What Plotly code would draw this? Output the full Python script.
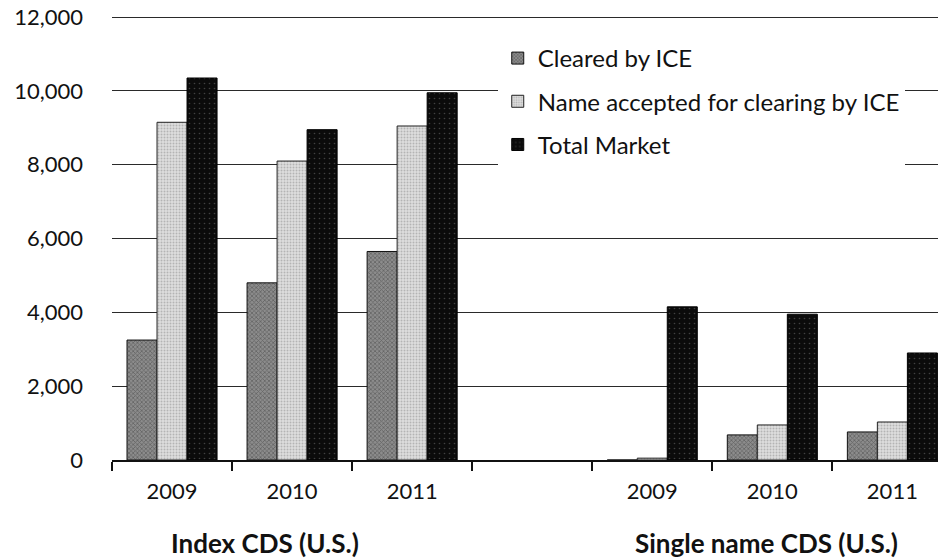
import plotly.graph_objects as go

# Categories along the x axis (blank slot separates the two groups)
categories = ["2009", "2010", "2011", "", "2009", "2010", "2011"]
group_labels = ["Index CDS (U.S.)", "Single name CDS (U.S.)"]

# Series values (notional)
cleared_by_ice = [3250, 4800, 5650, None, 0, 680, 760]
name_accepted = [9150, 8100, 9050, None, 50, 950, 1030]
total_market = [10350, 8950, 9950, None, 4150, 3950, 2900]

y_ticks = [0, 2000, 4000, 6000, 8000, 10000, 12000]

x = list(range(len(categories)))
FONT = "Lato"

fig = go.Figure()
fig.add_trace(go.Bar(
    x=x, y=cleared_by_ice, name="Cleared by ICE", legendgroup="a",
    marker=dict(color="#6a6a6a", line=dict(color="#111111", width=1),
                pattern=dict(shape="x", size=3, solidity=0.45,
                             fgcolor="#3a3a3a", bgcolor="#8c8c8c")),
))
fig.add_trace(go.Bar(
    x=x, y=name_accepted, name="Name accepted for clearing by ICE", legendgroup="b",
    marker=dict(color="#c6c6c6", line=dict(color="#222222", width=1),
                pattern=dict(shape=".", size=3, solidity=0.35,
                             fgcolor="#8a8a8a", bgcolor="#dedede")),
))
fig.add_trace(go.Bar(
    x=x, y=total_market, name="Total Market", legendgroup="c",
    marker=dict(color="#0b0b0b", line=dict(color="#000000", width=1),
                pattern=dict(shape=".", size=5, solidity=0.08,
                             fgcolor="#777777", bgcolor="#0b0b0b")),
))

fig.update_layout(
    width=938, height=558,
    margin=dict(l=112, r=0, t=16, b=98, autoexpand=False),
    paper_bgcolor="white", plot_bgcolor="white",
    barmode="group", bargap=0.25, bargroupgap=0,
    font=dict(family=FONT, size=22, color="#111111"),
    showlegend=True,
    legend=dict(x=0.467, y=0.955, xanchor="left", yanchor="top",
                bgcolor="white", borderwidth=0,
                font=dict(family=FONT, size=24, color="#111111"),
                traceorder="grouped", tracegroupgap=9),
    xaxis=dict(
        range=[-0.5, 6.38], automargin=False,
        tickmode="array", tickvals=x, ticktext=categories,
        ticks="", showgrid=False, zeroline=False,
        showline=True, linecolor="#111111", linewidth=1.5,
        ticklabelstandoff=11,
        tickfont=dict(family=FONT, size=22, color="#111111"),
        minor=dict(tick0=-0.5, dtick=1, ticks="outside", ticklen=9,
                   tickcolor="#111111", tickwidth=1.5, showgrid=False),
    ),
    yaxis=dict(
        range=[0, 12030], automargin=False, tickmode="array", tickvals=y_ticks,
        tickformat=",", showgrid=True, gridcolor="#2a2a2a", gridwidth=1,
        zeroline=False, showline=False, ticks="",
        ticklabelstandoff=28,
        tickfont=dict(family=FONT, size=22, color="#111111"),
    ),
)

# Group labels under the axis
group_centers_px = [265, 766]
for label, cx in zip(group_labels, group_centers_px):
    fig.add_annotation(
        text="<b>" + label + "</b>", xref="paper", yref="paper",
        x=(cx - 112) / 826, y=(460 - 543) / 444, xanchor="center", yanchor="middle",
        showarrow=False, font=dict(family=FONT, size=26, color="#111111"),
    )

fig.write_html(
    "out.html",
    config={"displayModeBar": False},
    post_script="document.body.style.margin='0';document.body.style.padding='0';",
)
